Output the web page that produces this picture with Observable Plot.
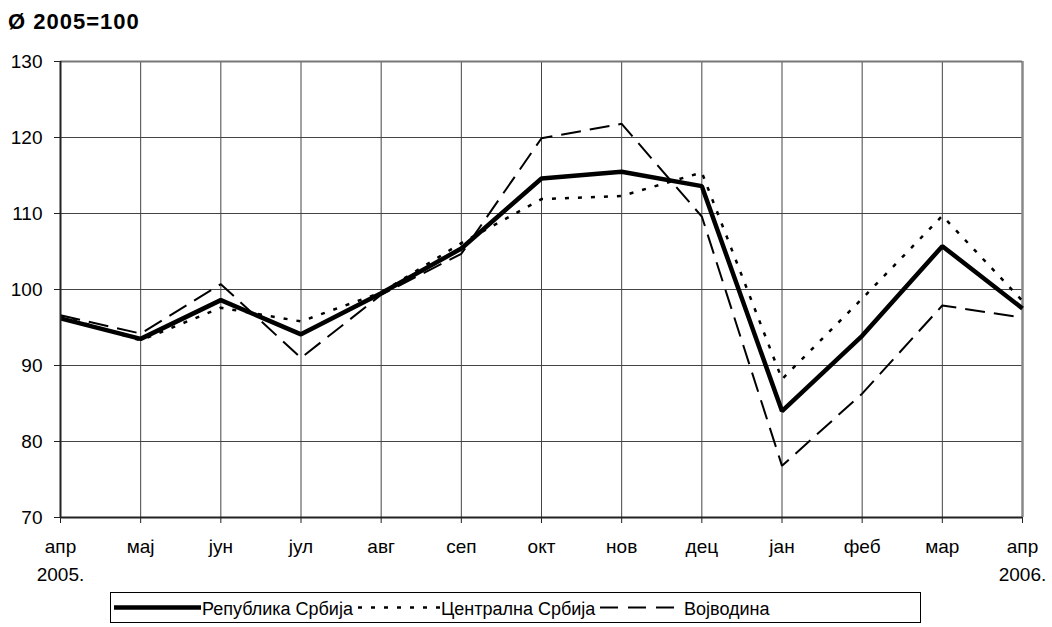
<!DOCTYPE html>
<html>
<head>
<meta charset="utf-8">
<script src="https://cdn.jsdelivr.net/npm/d3@7"></script>
<script src="https://cdn.jsdelivr.net/npm/@observablehq/plot@0.6"></script>
<style>
  body { margin: 0; background: #fff; font-family: "Liberation Sans", Arial, sans-serif; }
  #wrap { position: relative; width: 1052px; height: 627px; }
  #title { position: absolute; left: 8px; top: 11px; font-size: 22px; line-height: 1; font-weight: bold; letter-spacing: 1px; }
  #chart { position: absolute; left: 0; top: 0; }
  #legend { position: absolute; left: 110px; top: 592px; }
</style>
</head>
<body>
<div id="wrap">
  <div id="chart"></div>
  <div id="title">Ø 2005=100</div>
  <div id="legend"></div>
</div>
<script>
const months = ["апр","мај","јун","јул","авг","сеп","окт","нов","дец","јан","феб","мар","апр"];
const years = ["2005.","","","","","","","","","","","","2006."];
const seriesNames = ["Република Србија","Централна Србија","Војводина"];
const republika = [96.2, 93.5, 98.6, 94.1, 99.5, 105.4, 114.6, 115.5, 113.6, 84.0, 93.9, 105.7, 97.5];
const centralna = [96.5, 93.3, 97.6, 95.8, 99.6, 106.1, 111.9, 112.3, 115.4, 88.2, 98.8, 109.7, 98.5];
const vojvodina = [96.6, 94.2, 100.7, 91.0, 99.3, 104.7, 119.9, 121.8, 109.6, 76.8, 86.3, 97.9, 96.3];
const yTicks = [70, 80, 90, 100, 110, 120, 130];

const idx = months.map((_, i) => i);
const styles = [
  {stroke: "#000", strokeWidth: 4.5, dash: null},
  {stroke: "#000", strokeWidth: 2.5, dash: "4,9"},
  {stroke: "#000", strokeWidth: 2, dash: "20,9"}
];
const all = [republika, centralna, vojvodina];

const lineMarks = [2, 1, 0].map(k => Plot.line(idx, {
  x: i => i, y: i => all[k][i],
  stroke: styles[k].stroke, strokeWidth: styles[k].strokeWidth,
  strokeDasharray: styles[k].dash, strokeLinejoin: "miter", strokeLinecap: "butt"
}));

const plot = Plot.plot({
  width: 1052, height: 590,
  marginTop: 61, marginBottom: 73, marginLeft: 60, marginRight: 30,
  style: {fontFamily: "Liberation Sans, Arial, sans-serif", fontSize: "19px", color: "#000", background: "#fff"},
  x: {domain: [0, 12]},
  y: {domain: [70, 130]},
  marks: [
    Plot.gridX(idx, {x: d => d, stroke: "#444", strokeOpacity: 1, strokeWidth: 1}),
    Plot.gridY(yTicks, {y: d => d, stroke: "#444", strokeOpacity: 1, strokeWidth: 1}),
    Plot.ruleX([12], {stroke: "#888", strokeWidth: 2.5}),
    Plot.ruleY([130], {stroke: "#777", strokeWidth: 2}),
    ...lineMarks,
    Plot.ruleX([0], {stroke: "#222", strokeWidth: 2}),
    Plot.ruleY([70], {stroke: "#222", strokeWidth: 2}),
    Plot.axisY(yTicks, {tickSize: 6, tickPadding: 12, fontSize: 19, tickFormat: d => String(d), stroke: "#222"}),
    Plot.axisX(idx, {tickSize: 6, tickPadding: 16, fontSize: 19, tickFormat: i => months[i], stroke: "#222"}),
    Plot.axisX(idx, {tickSize: 0, tickPadding: 50, fontSize: 19, tickFormat: i => years[i]})
  ]
});
document.getElementById("chart").appendChild(plot);

// Legend
const lw = 810, lh = 30;
const svg = d3.select("#legend").append("svg").attr("width", lw + 2).attr("height", lh + 2)
  .style("font-family", "Liberation Sans, Arial, sans-serif");
svg.append("rect").attr("x", 0.5).attr("y", 0.5).attr("width", lw).attr("height", lh)
  .attr("fill", "#fff").attr("stroke", "#000").attr("stroke-width", 1);
const items = [
  {x1: 4, x2: 91, tx: 92, dash: null},
  {x1: 248, x2: 330, tx: 331, dash: "4,9"},
  {x1: 490, x2: 572, tx: 574, dash: "18,10"}
];
items.forEach((it, k) => {
  svg.append("line").attr("x1", it.x1).attr("x2", it.x2).attr("y1", 15.5).attr("y2", 15.5)
    .attr("stroke", "#000").attr("stroke-width", styles[k].strokeWidth)
    .attr("stroke-dasharray", it.dash);
  svg.append("text").attr("x", it.tx).attr("y", 22.5).attr("font-size", 18).text(seriesNames[k]);
});
</script>
</body>
</html>
